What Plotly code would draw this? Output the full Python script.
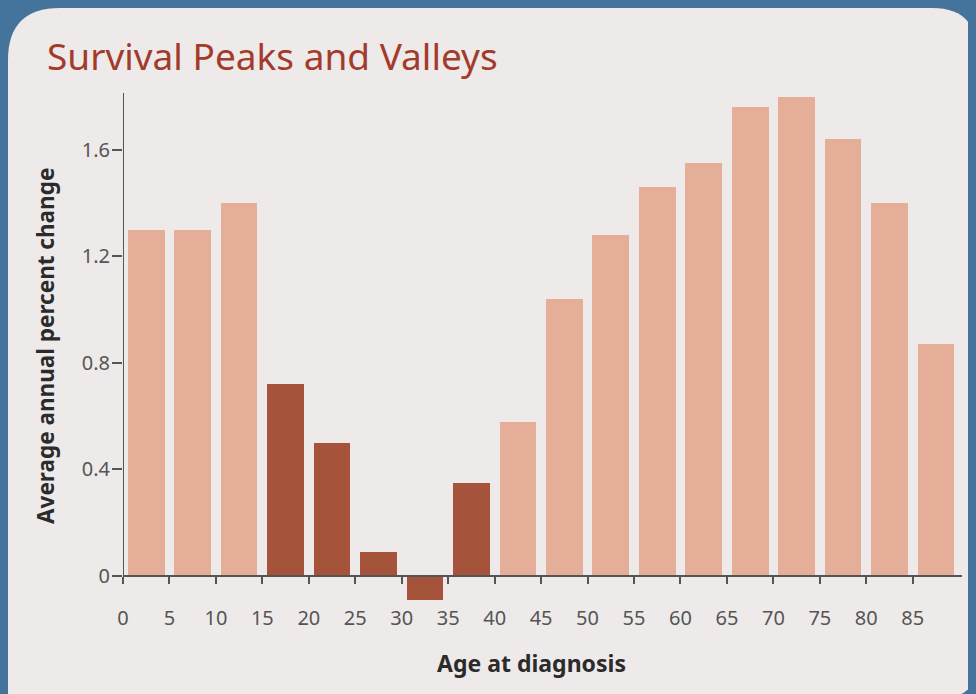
import plotly.graph_objects as go

# ---- data ----
age_groups = [0, 5, 10, 15, 20, 25, 30, 35, 40, 45, 50, 55, 60, 65, 70, 75, 80, 85]
avg_annual_pct_change = [1.30, 1.30, 1.40, 0.72, 0.50, 0.09, -0.09, 0.35, 0.58,
                         1.04, 1.28, 1.46, 1.55, 1.76, 1.80, 1.64, 1.40, 0.87]
x_tick_labels = [str(a) for a in age_groups]
y_tick_vals = [0, 0.4, 0.8, 1.2, 1.6]
y_tick_labels = ["0", "0.4", "0.8", "1.2", "1.6"]

# ---- styling ----
W, H = 976, 694
OFF = 8  # page offset of the figure inside the browser window
L, T = 123 - OFF, 93 - OFF
R = W - (962 - OFF)
B = H - (610 - OFF)
LIGHT = "#e5ae99"
DARK = "#a5533a"
AXIS = "#555555"
CARD = "#eeeaea"
BLUE = "#44749b"

colors = [DARK if 15 <= a < 40 else LIGHT for a in age_groups]
centers = [a + 2.5 for a in age_groups]

y_max = 1.814
y_min = -0.128
x_min, x_max = 0, 90.3

fig = go.Figure()
fig.add_trace(go.Bar(
    x=centers, y=avg_annual_pct_change, width=3.95,
    marker=dict(color=colors, line=dict(width=0)),
    hoverinfo="x+y", showlegend=False,
))

# screen pixel -> paper helpers
pw, ph = W - L - R, H - T - B
def px(x):
    return (x - OFF - L) / pw
def py(y):
    return (H - B - (y - OFF)) / ph

x0, x1, y0, y1 = 8, 977, 8, 698
rtl, rtr, rbr = 52, 45, 35
path = (f"M {px(x0)},{py(y0 + rtl)} "
        f"Q {px(x0)},{py(y0)} {px(x0 + rtl)},{py(y0)} "
        f"L {px(x1 - rtr)},{py(y0)} "
        f"Q {px(x1)},{py(y0)} {px(x1)},{py(y0 + rtr)} "
        f"L {px(x1)},{py(y1 - rbr)} "
        f"Q {px(x1)},{py(y1)} {px(x1 - rbr)},{py(y1)} "
        f"L {px(x0)},{py(y1)} Z")

fig.add_shape(type="path", path=path, xref="paper", yref="paper",
              fillcolor=CARD, line=dict(width=0), layer="below")
# y axis line from 0 to top
fig.add_shape(type="line", xref="x", yref="y", x0=0, x1=0, y0=0, y1=y_max,
              line=dict(color=AXIS, width=2), layer="above")

zero_pos = (0 - y_min) / (y_max - y_min)

fig.update_layout(
    width=W, height=H,
    margin=dict(l=L, r=R, t=T, b=B),
    paper_bgcolor=BLUE,
    plot_bgcolor=CARD,
    bargap=0,
    font=dict(family="Noto Sans", color=AXIS),
    title=dict(text="Survival Peaks and Valleys", xref="container", yref="container",
               x=(47 - OFF) / W, xanchor="left", y=1 - (57 - OFF) / H, yanchor="middle",
               font=dict(family="Noto Sans", size=37, color="#a33b2b")),
    xaxis=dict(range=[x_min, x_max], tickvals=age_groups, ticktext=x_tick_labels,
               showgrid=False, zeroline=False, showline=True, linecolor=AXIS, linewidth=2,
               ticks="outside", ticklen=7, tickwidth=2, tickcolor=AXIS,
               anchor="free", position=zero_pos,
               ticklabelstandoff=17,
               tickfont=dict(size=20, color=AXIS)),
    yaxis=dict(range=[y_min, y_max], tickvals=y_tick_vals, ticktext=y_tick_labels,
               showgrid=False, zeroline=False, showline=False,
               ticks="outside", ticklen=10, tickwidth=2, tickcolor=AXIS,
               ticklabelstandoff=-2,
               tickfont=dict(size=20, color=AXIS)),
    annotations=[
        dict(text="<b>Average annual percent change</b>", xref="paper", yref="paper",
             x=px(45), y=py(346), textangle=-90, showarrow=False,
             xanchor="center", yanchor="middle",
             font=dict(family="Noto Sans", size=22.5, color="#2b2b2b")),
        dict(text="<b>Age at diagnosis</b>", xref="paper", yref="paper",
             x=px(531), y=py(663), showarrow=False,
             xanchor="center", yanchor="middle",
             font=dict(family="Noto Sans", size=23, color="#2b2b2b")),
    ],
)

fig.write_html("out.html", post_script=f"document.body.style.background='{BLUE}';")
